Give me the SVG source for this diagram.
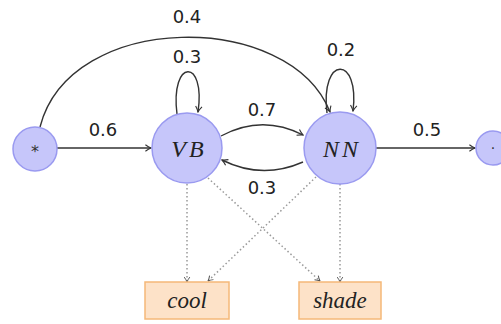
<svg xmlns="http://www.w3.org/2000/svg" width="501" height="324" viewBox="0 0 501 324">
<defs>
<style>
.st{fill:#c6c6fa;stroke:#9a9af0;stroke-width:1.5}
.obs{fill:#fde2c8;stroke:#f5b878;stroke-width:1.5}
.e{fill:none;stroke:#333;stroke-width:1.4}
.d{fill:none;stroke:#999;stroke-width:1.5;stroke-dasharray:1.5 2.5}
.lbl{font-family:"DejaVu Sans",sans-serif;font-size:18px;fill:#222;text-anchor:middle}
.nm{font-family:"Liberation Serif",serif;font-style:italic;font-size:24px;letter-spacing:3px;fill:#222;text-anchor:middle}
.ob{font-family:"Liberation Serif",serif;font-style:italic;font-size:23px;fill:#222;text-anchor:middle}
</style>
<marker id="ah" viewBox="0 0 10 10" refX="9" refY="5" markerWidth="8" markerHeight="8" orient="auto" markerUnits="userSpaceOnUse">
<path d="M2,1 Q6,4 9,5 Q6,6 2,9" fill="none" stroke="#333" stroke-width="1.4"/>
</marker>
<marker id="ahd" viewBox="0 0 10 10" refX="9" refY="5" markerWidth="7" markerHeight="7" orient="auto" markerUnits="userSpaceOnUse">
<path d="M2,1 Q6,4 9,5 Q6,6 2,9" fill="none" stroke="#555" stroke-width="1.4"/>
</marker>
</defs>
<g id="connectors">
<path class="e" d="M40,127 C70,10 290,10 330,112" marker-end="url(#ah)"/>
<path class="e" d="M57,148 L151,148" marker-end="url(#ah)"/>
<path class="e" d="M177,114 C170,58 206,58 198,112" marker-end="url(#ah)"/>
<path class="e" d="M327,113 C320,55 360,55 353,111" marker-end="url(#ah)"/>
<path class="e" d="M221,136 Q262,114 303,135" marker-end="url(#ah)"/>
<path class="e" d="M303,162 Q262,180 222,160" marker-end="url(#ah)"/>
<path class="e" d="M376,148 L475,148" marker-end="url(#ah)"/>
<path class="d" d="M187,184 L187,282" marker-end="url(#ahd)"/>
<path class="d" d="M340,184 L340,282" marker-end="url(#ahd)"/>
<path class="d" d="M208,178 L320,281" marker-end="url(#ahd)"/>
<path class="d" d="M316,177 L208,281" marker-end="url(#ahd)"/>
<text class="lbl" x="187" y="23">0.4</text>
<text class="lbl" x="103" y="136">0.6</text>
<text class="lbl" x="187" y="63">0.3</text>
<text class="lbl" x="341" y="56">0.2</text>
<text class="lbl" x="262" y="116">0.7</text>
<text class="lbl" x="262" y="194">0.3</text>
<text class="lbl" x="427" y="136">0.5</text>
</g>
<g id="start">
<circle class="st" cx="35" cy="149" r="22"/>
<text x="35" y="157" font-family="DejaVu Sans,sans-serif" font-size="16" fill="#333" text-anchor="middle">*</text>
</g>
<g id="VB">
<circle class="st" cx="187" cy="148" r="35"/>
<text class="nm" x="189" y="157">VB</text>
</g>
<g id="NN">
<circle class="st" cx="340" cy="148" r="36"/>
<text class="nm" x="342" y="157">NN</text>
</g>
<g id="end">
<circle class="st" cx="493" cy="148" r="17"/>
<text x="493" y="153" font-family="DejaVu Sans,sans-serif" font-size="14" fill="#333" text-anchor="middle">·</text>
</g>
<g id="cool">
<rect class="obs" x="145" y="282" width="84" height="37"/>
<text class="ob" x="187" y="308">cool</text>
</g>
<g id="shade">
<rect class="obs" x="299" y="282" width="82" height="37"/>
<text class="ob" x="340" y="308">shade</text>
</g>
</svg>
